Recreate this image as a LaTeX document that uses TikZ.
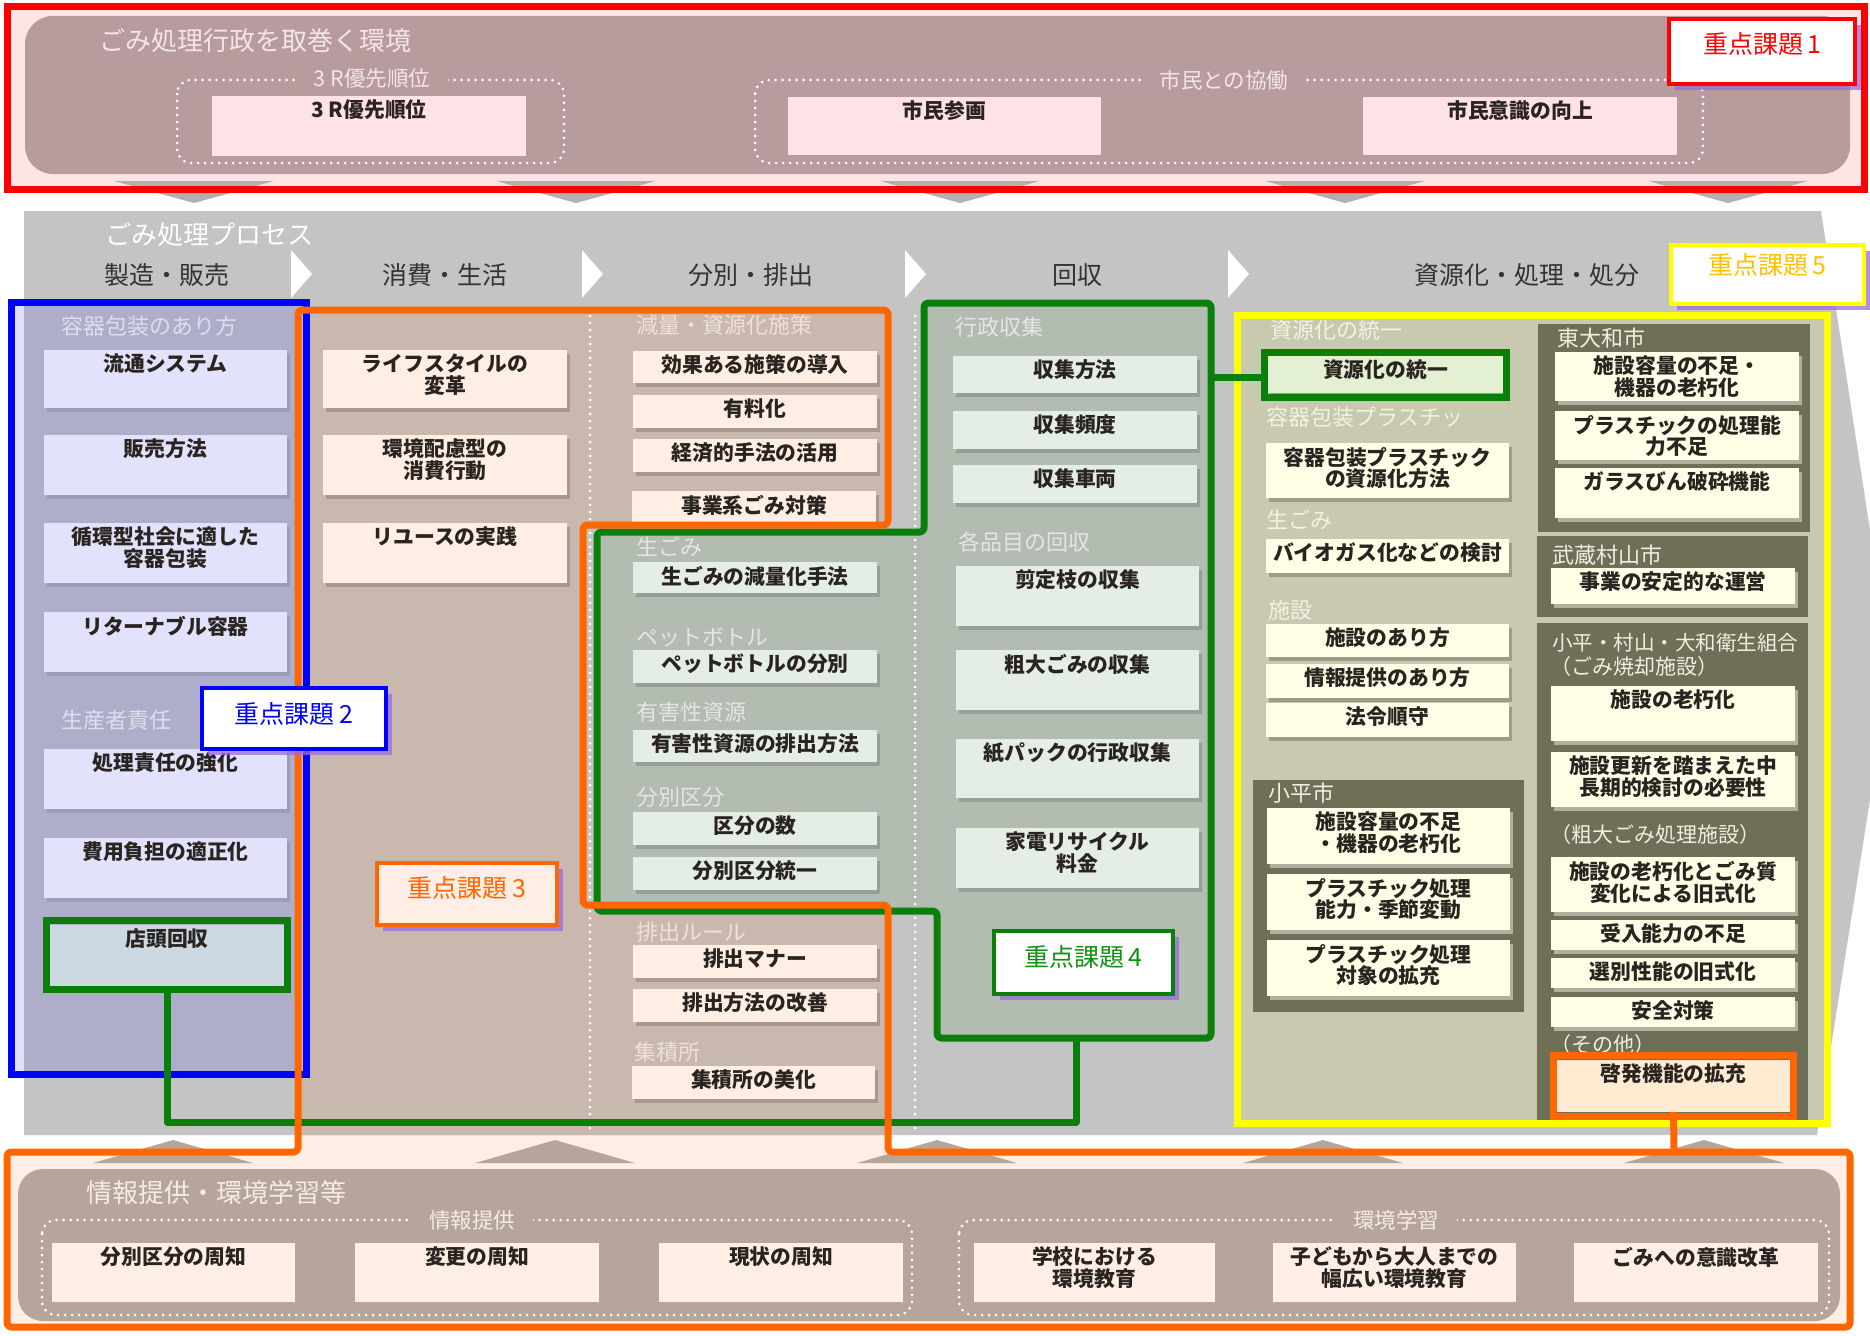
\documentclass[tikz,border=0pt]{standalone}
\usepackage{fontspec}
\setmainfont{Noto Sans CJK JP}
\usetikzlibrary{shadows}
\definecolor{redk}{HTML}{FF0000}
\definecolor{bluek}{HTML}{0000FF}
\definecolor{orgk}{HTML}{FF6600}
\definecolor{grnk}{HTML}{0A800A}
\definecolor{grnt}{HTML}{109010}
\definecolor{yelk}{HTML}{FFFF00}
\definecolor{goldk}{HTML}{FFC000}
\definecolor{kpur}{HTML}{9C6ADE}
\definecolor{toppink}{HTML}{FFE4E6}
\definecolor{topin}{HTML}{B89B9C}
\definecolor{topbox}{HTML}{FFE2E6}
\definecolor{toplt}{HTML}{F4E6E6}
\definecolor{procg}{HTML}{C4C4C4}
\definecolor{lavbg}{HTML}{AEAECA}
\definecolor{lavlt}{HTML}{E2E2F6}
\definecolor{lavk}{HTML}{E2E2FC}
\definecolor{lavsh}{HTML}{9C9CB8}
\definecolor{lavlbl}{HTML}{DEDEF0}
\definecolor{taupek}{HTML}{C9B8AD}
\definecolor{taulbl}{HTML}{EEE2DA}
\definecolor{peachk}{HTML}{FEEEE4}
\definecolor{peachsh}{HTML}{A89890}
\definecolor{sagek}{HTML}{B2BCB0}
\definecolor{sagelbl}{HTML}{E2E8E0}
\definecolor{lgrn}{HTML}{E4EEE4}
\definecolor{lgrnsh}{HTML}{95A195}
\definecolor{khakik}{HTML}{C9C9B0}
\definecolor{khlbl}{HTML}{F2F2E4}
\definecolor{creamk}{HTML}{FFFFE8}
\definecolor{creamsh}{HTML}{9C9C88}
\definecolor{panelk}{HTML}{6F6F58}
\definecolor{panelsh}{HTML}{B0B0A0}
\definecolor{pnlbl}{HTML}{EEEEE2}
\definecolor{botpeach}{HTML}{FFEEE6}
\definecolor{botin}{HTML}{B5A59A}
\definecolor{botlt}{HTML}{F6ECE6}
\definecolor{trig}{HTML}{B0B0B0}
\definecolor{txd}{HTML}{2A2420}
\definecolor{hdrc}{HTML}{333333}
\definecolor{shopbl}{HTML}{CCD8E2}
\definecolor{resgrn}{HTML}{E4F0D2}
\definecolor{keihatsu}{HTML}{FFEBD2}
\tikzset{
  every node/.style={inner sep=0pt, outer sep=0pt},
  shd/.style={drop shadow={shadow xshift=3pt,shadow yshift=-4pt,fill=#1,opacity=1}},
  bxf/.style={font=\bfseries\fontsize{20.8}{21.8}\selectfont, text=txd, align=center, anchor=north},
  lbl/.style={font=\fontsize{22}{24}\selectfont, anchor=west},
  hdr/.style={font=\fontsize{25}{27}\selectfont, text=hdrc},
  dotln/.style={draw=white, line width=3pt, line cap=round, dash pattern=on 0pt off 7pt},
  kline/.style={line width=7pt, line join=round},
  kb/.style={anchor=north west, line width=4pt, drop shadow={shadow xshift=6pt,shadow yshift=-6pt,fill=kpur,opacity=0.75}},
  kt/.style={font=\fontsize{25}{27}\selectfont, anchor=north},
  topb/.style={fill=topbox},
  botb/.style={fill=botpeach},
  lavb/.style={fill=lavk, shd=lavsh},
  peab/.style={fill=peachk, shd=peachsh},
  grnb/.style={fill=lgrn, shd=lgrnsh},
  crmb/.style={fill=creamk, shd=creamsh},
  crpb/.style={fill=creamk, shd=panelsh},
  shopb/.style={fill=shopbl},
  resb/.style={fill=resgrn, shd=lgrnsh},
  keib/.style={fill=keihatsu},
}
\newcommand\bx[7]{%
  \node[#6, anchor=north west, minimum width={#4-#2}, minimum height={#5-#3}] (#1) at (#2,#3) {};
  \node[bxf] (#1t) at ({(#2+#4)/2},{#3+4}) {#7};}
\newcommand\kbox[6]{\node[kb,#6, minimum width={#4-#2}, minimum height={#5-#3}] (#1) at (#2,#3) {};}
\begin{document}
\begin{tikzpicture}[x=1pt,y=-1pt]
\useasboundingbox[fill=white] (0,0) rectangle (1870,1335);
% ---------------- top section
\fill[toppink] (7,7) rectangle (1864,189);
\fill[topin, rounded corners=28pt] (25,16) rectangle (1850,174);
\node[lbl, text=toplt, font=\fontsize{26}{28}\selectfont] (ttl1) at (99,41) {ごみ処理行政を取巻く環境};
\draw[dotln, rounded corners=14pt] (177,80) rectangle (564,163);
\draw[dotln, rounded corners=14pt] (755,80) rectangle (1703,163);
\node[font=\fontsize{21.5}{23}\selectfont, fill=topin, inner xsep=18pt, inner ysep=2pt, text=toplt] (dl1) at (372,78) {3 R優先順位};
\node[font=\fontsize{21.5}{23}\selectfont, fill=topin, inner xsep=18pt, inner ysep=2pt, text=toplt] (dl2) at (1224,80) {市民との協働};
\bx{t1}{212}{96}{526}{156}{topb}{3 R優先順位}
\bx{t2}{788}{97}{1101}{155}{topb}{市民参画}
\bx{t3}{1363}{97}{1677}{155}{topb}{市民意識の向上}
\foreach \c in {194,576,960,1345,1728} \fill[trig] (\c-80,181) -- (\c+80,181) -- (\c,203) -- cycle;
\draw[redk, line width=7pt] (7,7) rectangle (1864,189);
% ---------------- bottom section base
\fill[botpeach] (298,310) -- (888,310) -- (888,525) -- (583,525) -- (583,905) -- (888,905) -- (888,1152) -- (1850,1152) -- (1850,1327) -- (7,1327) -- (7,1152) -- (298,1152) -- cycle;
\foreach \c in {173,555,937,1323,1704} \fill[botin] (\c-80,1163) -- (\c+80,1163) -- (\c,1140) -- cycle;
\fill[botin, rounded corners=25pt] (18,1169) rectangle (1840,1321);
\node[lbl, text=botlt, font=\fontsize{26}{28}\selectfont] (ttl3) at (86,1193) {情報提供・環境学習等};
\draw[dotln, rounded corners=14pt] (42,1220) rectangle (912,1315);
\draw[dotln, rounded corners=14pt] (959,1220) rectangle (1829,1315);
\node[font=\fontsize{21.5}{23}\selectfont, fill=botin, inner xsep=18pt, inner ysep=2pt, text=botlt] (dl3) at (472,1220) {情報提供};
\node[font=\fontsize{21.5}{23}\selectfont, fill=botin, inner xsep=18pt, inner ysep=2pt, text=botlt] (dl4) at (1396,1220) {環境学習};
\bx{b1}{52}{1243}{295}{1302}{botb}{分別区分の周知}
\bx{b2}{355}{1243}{599}{1302}{botb}{変更の周知}
\bx{b3}{659}{1243}{903}{1302}{botb}{現状の周知}
\bx{b4}{974}{1243}{1215}{1302}{botb}{学校における\\環境教育}
\bx{b5}{1273}{1243}{1516}{1302}{botb}{子どもから大人までの\\幅広い環境教育}
\bx{b6}{1574}{1243}{1818}{1302}{botb}{ごみへの意識改革}
% ---------------- process
\fill[procg] (24,211) -- (1821,211) -- (1891,667) -- (1817,1135) -- (24,1135) -- cycle;
\fill[lavlt] (11,302) rectangle (307,1074);
\fill[lavbg] (24,302) rectangle (307,1074);
\fill[taupek] (298,310) -- (888,310) -- (888,525) -- (583,525) -- (583,905) -- (888,905) -- (888,1135) -- (298,1135) -- cycle;
\fill[sagek] (597,532) -- (924,532) -- (924,303) -- (1211,303) -- (1211,1038) -- (937,1038) -- (937,911) -- (597,911) -- cycle;
\fill[khakik] (1237.5,315.5) rectangle (1827.5,1123.5);
\draw[dotln] (590,316) -- (590,1133);
\draw[dotln] (915,316) -- (915,1133);
\foreach \x in {291,582,905,1228} \fill[white] (\x,250) -- (\x+21,274) -- (\x,298) -- cycle;
\node[lbl, text=white, font=\fontsize{26}{28}\selectfont] (ptl) at (105,235) {ごみ処理プロセス};
\node[hdr] (h1) at (167,275) {製造・販売};
\node[hdr] (h2) at (445,275) {消費・生活};
\node[hdr] (h3) at (751,275) {分別・排出};
\node[hdr] (h4) at (1077,275) {回収};
\node[hdr] (h5) at (1527,275) {資源化・処理・処分};
% column 1
\node[lbl, text=lavlbl] (l11) at (61,326) {容器包装のあり方};
\node[lbl, text=lavlbl] (l12) at (61,720) {生産者責任};
\bx{c1a}{44}{350}{287}{408}{lavb}{流通システム}
\bx{c1b}{44}{435}{287}{495}{lavb}{販売方法}
\bx{c1c}{44}{523}{287}{583}{lavb}{循環型社会に適した\\容器包装}
\bx{c1d}{44}{612}{287}{672}{lavb}{リターナブル容器}
\bx{c1e}{44}{749}{287}{809}{lavb}{処理責任の強化}
\bx{c1f}{44}{838}{287}{898}{lavb}{費用負担の適正化}
\bx{c1g}{50}{925}{284}{986}{shopb}{店頭回収}
% column 2
\bx{c2a}{323}{350}{567}{408}{peab}{ライフスタイルの\\変革}
\bx{c2b}{323}{435}{567}{495}{peab}{環境配慮型の\\消費行動}
\bx{c2c}{323}{523}{567}{583}{peab}{リユースの実践}
% column 3
\node[lbl, text=taulbl] (l31) at (636,325) {減量・資源化施策};
\node[lbl, text=sagelbl] (l32) at (636,547) {生ごみ};
\node[lbl, text=sagelbl] (l33) at (636,637) {ペットボトル};
\node[lbl, text=sagelbl] (l34) at (636,712) {有害性資源};
\node[lbl, text=sagelbl] (l35) at (636,797) {分別区分};
\node[lbl, text=taulbl] (l36) at (636,932) {排出ルール};
\node[lbl, text=taulbl] (l37) at (634,1052) {集積所};
\bx{c3a}{633}{351}{877}{383}{peab}{効果ある施策の導入}
\bx{c3b}{633}{395}{877}{428}{peab}{有料化}
\bx{c3c}{633}{439}{877}{472}{peab}{経済的手法の活用}
\bx{c3d}{632}{491}{876}{522}{peab}{事業系ごみ対策}
\bx{c3e}{633}{562}{877}{593}{grnb}{生ごみの減量化手法}
\bx{c3f}{633}{650}{877}{683}{grnb}{ペットボトルの分別}
\bx{c3g}{633}{730}{877}{762}{grnb}{有害性資源の排出方法}
\bx{c3h}{633}{812}{877}{845}{grnb}{区分の数}
\bx{c3i}{633}{857}{877}{890}{grnb}{分別区分統一}
\bx{c3j}{633}{945}{877}{978}{peab}{排出マナー}
\bx{c3k}{633}{989}{877}{1022}{peab}{排出方法の改善}
\bx{c3l}{632}{1066}{875}{1099}{peab}{集積所の美化}
% column 4
\node[lbl, text=sagelbl] (l41) at (955,327) {行政収集};
\node[lbl, text=sagelbl] (l42) at (958,542) {各品目の回収};
\bx{c4a}{953}{356}{1197}{393}{grnb}{収集方法}
\bx{c4b}{953}{411}{1197}{449}{grnb}{収集頻度}
\bx{c4c}{953}{465}{1197}{503}{grnb}{収集車両}
\bx{c4d}{956}{566}{1199}{626}{grnb}{剪定枝の収集}
\bx{c4e}{956}{650}{1199}{710}{grnb}{粗大ごみの収集}
\bx{c4f}{956}{739}{1199}{798}{grnb}{紙パックの行政収集}
\bx{c4g}{956}{828}{1199}{888}{grnb}{家電リサイクル\\料金}
% column 5
\fill[panelk] (1253,780) rectangle (1524,1012);
\fill[panelk] (1538,324) rectangle (1810,532);
\fill[panelk] (1537,536) rectangle (1808,617);
\fill[panelk] (1537,623) rectangle (1808,1122);
\node[lbl, text=khlbl] (l51) at (1270,330) {資源化の統一};
\node[lbl, text=khlbl] (l52) at (1266,417) {容器包装プラスチッ};
\node[lbl, text=khlbl] (l53) at (1266,520) {生ごみ};
\node[lbl, text=khlbl] (l54) at (1268,610) {施設};
\node[lbl, text=pnlbl] (l55) at (1268,793) {小平市};
\node[lbl, text=pnlbl] (l56) at (1557,338) {東大和市};
\node[lbl, text=pnlbl] (l57) at (1552,555) {武蔵村山市};
\node[lbl, text=pnlbl, font=\fontsize{20.5}{22}\selectfont] (l58) at (1552,643) {小平・村山・大和衛生組合};
\node[lbl, text=pnlbl, font=\fontsize{21}{23}\selectfont] (l59) at (1550,667) {（ごみ焼却施設）};
\node[lbl, text=pnlbl, font=\fontsize{21}{23}\selectfont] (l5a) at (1550,835) {（粗大ごみ処理施設）};
\node[lbl, text=pnlbl, font=\fontsize{21}{23}\selectfont] (l5b) at (1550,1045) {（その他）};
\bx{c5a}{1268}{356}{1503}{393}{resb}{資源化の統一}
\bx{c5b}{1266}{443}{1509}{498}{crmb}{容器包装プラスチック\\の資源化方法}
\bx{c5c}{1266}{539}{1509}{573}{crmb}{バイオガス化などの検討}
\bx{c5d}{1266}{624}{1509}{657}{crmb}{施設のあり方}
\bx{c5e}{1266}{664}{1509}{698}{crmb}{情報提供のあり方}
\bx{c5f}{1266}{703}{1509}{737}{crmb}{法令順守}
\bx{c5g}{1267}{808}{1510}{864}{crpb}{施設容量の不足\\・機器の老朽化}
\bx{c5h}{1267}{874}{1510}{930}{crpb}{プラスチック処理\\能力・季節変動}
\bx{c5i}{1267}{940}{1510}{996}{crpb}{プラスチック処理\\対象の拡充}
\bx{c5j}{1555}{352}{1799}{401}{crpb}{施設容量の不足・\\機器の老朽化}
\bx{c5k}{1555}{411}{1799}{460}{crpb}{プラスチックの処理能\\力不足}
\bx{c5l}{1555}{468}{1799}{518}{crpb}{ガラスびん破砕機能}
\bx{c5m}{1551}{568}{1795}{604}{crpb}{事業の安定的な運営}
\bx{c5n}{1551}{686}{1795}{741}{crpb}{施設の老朽化}
\bx{c5o}{1551}{752}{1795}{807}{crpb}{施設更新を踏まえた中\\長期的検討の必要性}
\bx{c5p}{1551}{857}{1795}{912}{crpb}{施設の老朽化とごみ質\\変化による旧式化}
\bx{c5q}{1551}{920}{1795}{950}{crpb}{受入能力の不足}
\bx{c5r}{1551}{958}{1795}{988}{crpb}{選別性能の旧式化}
\bx{c5s}{1551}{997}{1795}{1027}{crpb}{安全対策}
\bx{c5t}{1557}{1060}{1790}{1112}{keib}{啓発機能の拡充}
% ---------------- group outlines
\draw[bluek, line width=7pt] (11.5,302.5) rectangle (306.5,1074);
\draw[yelk, line width=7pt] (1237.5,315.5) rectangle (1827.5,1123.5);
\coordinate (gb) at (1076,1038);
\coordinate (gturn) at (1076,1122);
\coordinate (gr) at (1211,377);
\draw[grnk, kline, rounded corners=4pt] (597,532) -- (924,532) -- (924,303) -- (1211,303) -- (1211,1038) -- (937,1038) -- (937,911) -- (597,911) -- cycle;
\draw[grnk, kline] (c1g.south) |- (gturn) -- (gb);
\draw[grnk, kline] (gr) -- (gr -| c5a.west);
\draw[grnk, line width=7pt] (46.5,920.5) rectangle (287.5,989.5);
\draw[grnk, line width=7pt] (1264.5,352.5) rectangle (1506.5,397.5);
\draw[orgk, kline, rounded corners=4pt] (298,310) -- (888,310) -- (888,525) -- (583,525) -- (583,905) -- (888,905) -- (888,1152) -- (1850,1152) -- (1850,1327) -- (7,1327) -- (7,1152) -- (298,1152) -- cycle;
\draw[orgk, line width=7pt] (1553.5,1055.5) rectangle (1793.5,1116.5);
\coordinate (ob) at (1674,1152);
\draw[orgk, kline] (c5t.south) -- (ob);
% ---------------- key issue labels
\kbox{k1}{1669}{19}{1855}{84}{draw=redk,fill=white}
\node[kt, text=redk] (k1t) at (1762,33) {重点課題\,1};
\kbox{k2}{202}{688}{386}{749}{draw=bluek,fill=white}
\node[kt, text=bluek] (k2t) at (294,702) {重点課題\,2};
\kbox{k3}{377}{863}{557}{925}{draw=orgk,fill=botpeach}
\node[kt, text=orgk] (k3t) at (467,876) {重点課題\,3};
\kbox{k4}{994}{931}{1173}{994}{draw=grnk,fill=white}
\node[kt, text=grnt] (k4t) at (1083.5,945) {重点課題\,4};
\kbox{k5}{1671}{245}{1864}{304}{draw=yelk,fill=white}
\node[kt, text=goldk] (k5t) at (1767.5,253) {重点課題\,5};
\end{tikzpicture}
\end{document}
